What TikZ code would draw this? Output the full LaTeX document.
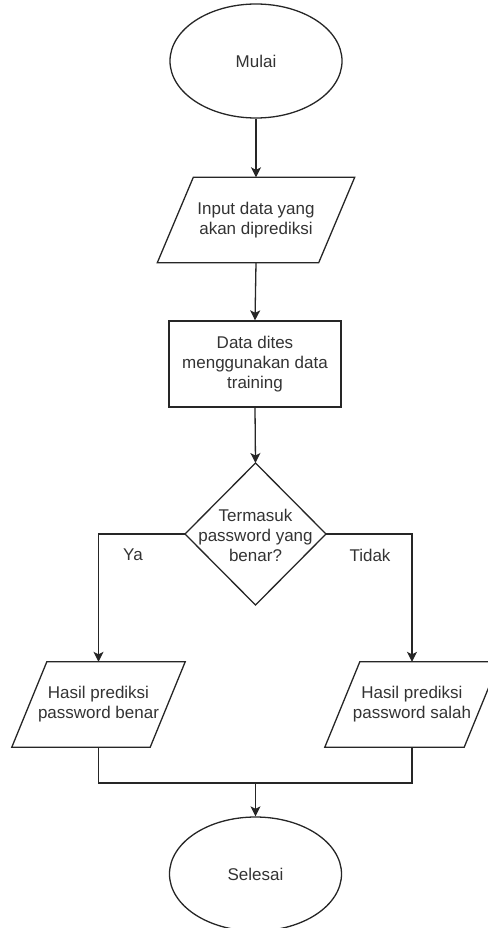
\documentclass[tikz,border=0pt]{standalone}
\usepackage{fontspec}
\setmainfont{Liberation Sans}
\usetikzlibrary{shapes.geometric,arrows.meta,calc}
\begin{document}
\begin{tikzpicture}[x=1pt,y=-1pt,
  every node/.style={font=\fontsize{17}{20}\selectfont,text=black!80,align=center},
  line/.style={draw=black!85,line width=1.3pt},
  arr/.style={line,-{Stealth[length=10pt,width=10pt,inset=2.5pt]}},
  term/.style={ellipse,line,minimum width=172pt,minimum height=114pt,inner sep=0pt},
  procbox/.style={rectangle,line,minimum width=172pt,minimum height=86pt,inner sep=0pt},
  iobox/.style={rectangle,minimum height=85pt,inner sep=0pt},
]
\useasboundingbox (0,0) rectangle (487,928);

\node[term] (mulai) at (256,61) {Mulai};

\node[iobox,minimum width=161pt] (input) at (256,220) {Input data yang\\ akan diprediksi};
\draw[line] ($(input.north west)+(18,0)$) -- ($(input.north east)+(18,0)$)
  -- ($(input.south east)+(-18,0)$) -- ($(input.south west)+(-18,0)$) -- cycle;

\node[procbox] (proses) at (255,364) {Data dites\\ menggunakan data\\ training};

\node (dec) at (255.5,535) {Termasuk\\ password yang\\ benar?};
\coordinate (dtop) at (255.5,463);
\coordinate (dbot) at (255.5,605);
\coordinate (dleft) at (185,534);
\coordinate (dright) at (326,534);
\draw[line] (dtop) -- (dright) -- (dbot) -- (dleft) -- cycle;

\node[iobox,minimum width=138pt] (benar) at (98.5,704.5) {Hasil prediksi\\ password benar};
\draw[line] ($(benar.north west)+(17.5,0)$) -- ($(benar.north east)+(17.5,0)$)
  -- ($(benar.south east)+(-17.5,0)$) -- ($(benar.south west)+(-17.5,0)$) -- cycle;

\node[iobox,minimum width=139pt] (salah) at (412,704.5) {Hasil prediksi\\ password salah};
\draw[line] ($(salah.north west)+(17.5,0)$) -- ($(salah.north east)+(17.5,0)$)
  -- ($(salah.south east)+(-17.5,0)$) -- ($(salah.south west)+(-17.5,0)$) -- cycle;

\node[term] (selesai) at (255.5,874) {Selesai};

\draw[arr] (mulai.south) -- (input.north);
\draw[arr] (input.south) -- (proses.north);
\draw[arr] (proses.south) -- (dtop);
\draw[arr] (dleft) -| (benar.north);
\draw[arr] (dright) -| (salah.north);
\node (ya) at (133,555) {Ya};
\node (tidak) at (370,555) {Tidak};

\coordinate (join) at (255.5,783);
\draw[line] (benar.south) |- (join);
\draw[line] (salah.south) |- (join);
\draw[arr] (join) -- (selesai.north);
\end{tikzpicture}
\end{document}
